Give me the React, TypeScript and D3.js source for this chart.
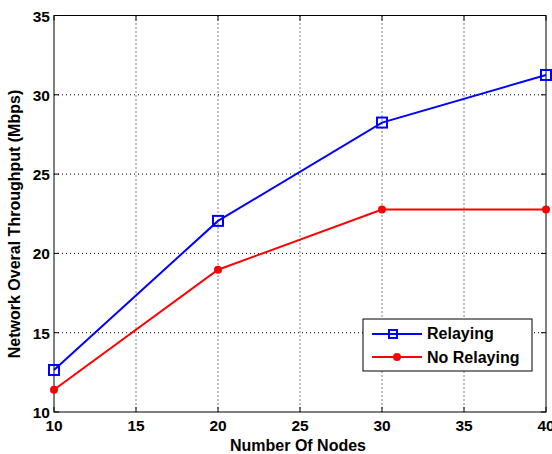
import React from "react";
import * as d3 from "d3";

const nodes = [10, 20, 30, 40];
const relaying = [12.65, 22.05, 28.25, 31.25];
const noRelaying = [11.4, 18.97, 22.77, 22.77];
const xTicks = [10, 15, 20, 25, 30, 35, 40];
const yTicks = [10, 15, 20, 25, 30, 35];

export default function App() {
  const W = 552, H = 454;
  const L = 54, R = 546, T = 15.5, B = 412;
  const x = d3.scaleLinear().domain([10, 40]).range([L, R]);
  const y = d3.scaleLinear().domain([10, 35]).range([B, T]);
  const line = d3.line<number>().x((_, i) => x(nodes[i])).y((d) => y(d));
  const font = "'Liberation Sans', Arial, sans-serif";
  const tk = 5;
  const fs = 15.5;
  return (
    <svg width={W} height={H} style={{ position: "absolute", left: 0, top: 0 }} fontFamily={font}>
      <rect width={W} height={H} fill="#fff" />
      {xTicks.slice(1, -1).map((t) => (
        <line key={"gx" + t} x1={x(t)} x2={x(t)} y1={T} y2={B} stroke="#000" strokeWidth={1} strokeDasharray="1,3" />
      ))}
      {yTicks.slice(1, -1).map((t) => (
        <line key={"gy" + t} x1={L} x2={R} y1={y(t)} y2={y(t)} stroke="#000" strokeWidth={1} strokeDasharray="1,3" />
      ))}
      {xTicks.map((t) => (
        <g key={"tx" + t}>
          <line x1={x(t)} x2={x(t)} y1={B} y2={B - tk} stroke="#000" />
          <line x1={x(t)} x2={x(t)} y1={T} y2={T + tk} stroke="#000" />
          <text x={x(t)} y={431} textAnchor="middle" fontSize={fs} fontWeight="bold">{t}</text>
        </g>
      ))}
      {yTicks.map((t) => (
        <g key={"ty" + t}>
          <line x1={L} x2={L + tk} y1={y(t)} y2={y(t)} stroke="#000" />
          <line x1={R} x2={R - tk} y1={y(t)} y2={y(t)} stroke="#000" />
          <text x={50} y={y(t) + 6} textAnchor="end" fontSize={fs} fontWeight="bold">{t}</text>
        </g>
      ))}
      <rect x={L} y={T} width={R - L} height={B - T} fill="none" stroke="#000" strokeWidth={1} />
      <path d={line(relaying) || ""} fill="none" stroke="#0000ff" strokeWidth={2} />
      {relaying.map((v, i) => (
        <rect key={"r" + i} x={x(nodes[i]) - 5} y={y(v) - 5} width={10} height={10} fill="none" stroke="#0000ff" strokeWidth={2} />
      ))}
      <path d={line(noRelaying) || ""} fill="none" stroke="#ff0000" strokeWidth={2} />
      {noRelaying.map((v, i) => (
        <circle key={"n" + i} cx={x(nodes[i])} cy={y(v)} r={4} fill="#ff0000" />
      ))}
      <text x={298} y={451} textAnchor="middle" fontSize={16} fontWeight="bold">Number Of Nodes</text>
      <text transform={`translate(20,224) rotate(-90)`} textAnchor="middle" fontSize={16} fontWeight="bold">Network Overal Throughput (Mbps)</text>
      <g>
        <rect x={363} y={319} width={169} height={52} fill="#fff" stroke="#000" strokeWidth={1} />
        <line x1={372} x2={422} y1={334} y2={334} stroke="#0000ff" strokeWidth={2} />
        <rect x={389} y={330} width={8} height={8} fill="none" stroke="#0000ff" strokeWidth={2} />
        <text x={427} y={339} fontSize={16} fontWeight="bold">Relaying</text>
        <line x1={372} x2={422} y1={357} y2={357} stroke="#ff0000" strokeWidth={2} />
        <circle cx={397} cy={357} r={4} fill="#ff0000" />
        <text x={427} y={363} fontSize={16} fontWeight="bold">No Relaying</text>
      </g>
    </svg>
  );
}
